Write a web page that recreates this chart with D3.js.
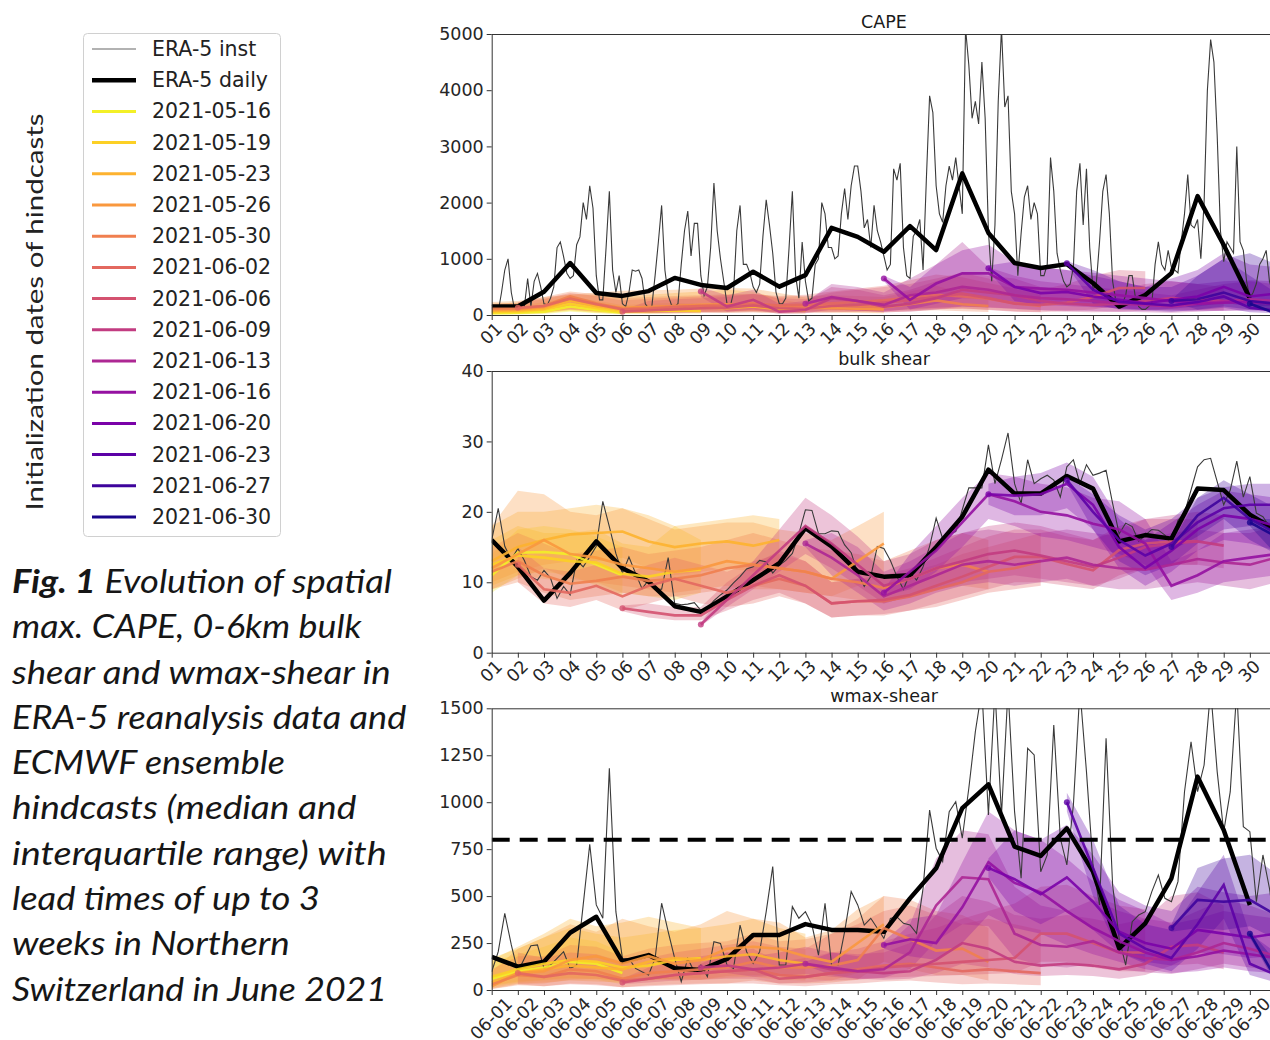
<!DOCTYPE html>
<html>
<head>
<meta charset="utf-8">
<script src="https://cdn.jsdelivr.net/npm/d3@7"></script>
<style>
  body { margin: 0; background: #fff; }
  svg { display: block; }
</style>
</head>
<body>
<div id="chart"></div>
<script>

// hindcast initialization dates and their start day in June (day 0 = 31 May)
var initDates = ["2021-05-16", "2021-05-19", "2021-05-23", "2021-05-26", "2021-05-30", "2021-06-02", "2021-06-06",
  "2021-06-09", "2021-06-13", "2021-06-16", "2021-06-20", "2021-06-23", "2021-06-27", "2021-06-30"];
var initStart = [-14, -11, -7, -4, 0, 2, 6, 9, 13, 16, 20, 23, 27, 30];

// ERA-5 daily maxima, one value per day from 06-01
var capeDaily = [150, 150, 415, 925, 390, 340, 425, 660, 535, 480, 770, 505, 710, 1550, 1390, 1125, 1580, 1155, 2520, 1460,
  925, 835, 905, 570, 150, 355, 745, 2115, 1245, 300];
var shearDaily = [16.0, 12.2, 7.4, 11.3, 15.8, 12.0, 10.1, 6.6, 5.8, 8.0, 10.3, 12.7, 17.7, 15.1, 11.5, 10.8, 11.0, 15.0, 19.3, 26.0,
  22.6, 22.6, 25.1, 23.3, 15.8, 16.7, 16.2, 23.3, 23.1, 19.6, 17.4];
var wmaxDaily = [177, 124, 151, 305, 390, 151, 186, 116, 107, 165, 293, 293, 351, 320, 320, 310, 488, 648, 968, 1095,
  763, 714, 861, 630, 222, 355, 595, 1136, 852, 453];

// ERA-5 instantaneous values (CAPE 3-hourly, shear and wmax-shear 6-hourly) from 06-01 00 UTC
var capeInst = [
  180, 100, 60, 400, 800, 1000, 400, 100,
  100, 90, 150, 650, 150, 600, 740, 500,
  200, 180, 300, 500, 1200, 1300, 1040, 740,
  650, 700, 1250, 1390, 2000, 1700, 2300, 1900,
  700, 270, 270, 1200, 2200, 800, 400, 700,
  200, 150, 400, 800, 780, 800, 650, 200,
  120, 150, 700, 1300, 1950, 800, 350, 180,
  150, 200, 900, 1500, 1850, 1050, 1630, 1630,
  700, 350, 500, 1200, 2350, 1500, 1000, 600,
  200, 150, 400, 1500, 1950, 900, 900, 750,
  500, 400, 550, 1400, 2050, 1600, 1100, 400,
  200, 200, 300, 1200, 2200, 700, 300, 1300,
  600, 250, 300, 900, 1000, 2000, 1800, 1200,
  1200, 1000, 1050, 1800, 2250, 1700, 2300, 2650,
  2650, 2200, 1550, 1700, 1200, 1950, 1500, 1300,
  1050, 800, 900, 2600, 2400, 2700, 1200, 700,
  650, 1400, 1500, 1700, 800, 2400, 3900, 3600,
  2300, 1800, 1650, 2300, 2650, 2400, 2800, 2300,
  1800, 5100, 4450, 3500, 3800, 3400, 4500, 3500,
  1500, 600, 1600, 3800, 5100, 3700, 3900, 2200,
  1800, 700, 1450, 2100, 2300, 1700, 2000, 1800,
  700, 700, 900, 2800, 2200, 1100, 800, 600,
  500, 550, 850, 2200, 2700, 1600, 2600, 1200,
  450, 550, 1300, 2200, 2500, 1800, 600, 250,
  200, 200, 350, 700, 700, 300, 150, 100,
  100, 150, 200, 900, 1300, 900, 800, 1150,
  850, 800, 750, 1300, 1800, 2500, 1600, 1550,
  1700, 1000, 2000, 4000, 4900, 4500, 3200, 1500,
  950, 1300, 1200, 1100, 3000, 1300, 1150, 600,
  300, 400, 560, 900, 1000, 1150, 600, 400,
  300, 250];
var shearInst = [
  16.0, 20.5, 15.1, 13.2, 14.8, 13.1, 10.8, 10.3, 11.7, 10.6, 7.7, 9.4, 8.2, 13.1, 12.2, 13.6,
  15.1, 21.5, 17.9, 14.1, 11.3, 13.6, 11.3, 9.1, 10.3, 9.0, 9.0, 13.5, 7.0, 6.8, 6.9, 7.1,
  6.0, 6.3, 7.4, 8.2, 8.9, 9.9, 10.8, 11.9, 12.2, 13.1, 12.9, 11.3, 12.4, 13.1, 14.1, 16.9,
  20.3, 20.2, 16.9, 16.9, 17.3, 17.2, 15.3, 14.2, 11.3, 9.4, 10.8, 15.1, 14.8, 13.1, 10.8, 9.0,
  11.3, 10.3, 12.2, 15.1, 19.1, 16.2, 16.9, 17.2, 20.3, 23.4, 23.4, 23.4, 29.5, 24.0, 27.4, 31.2,
  24.0, 21.2, 27.4, 24.0, 24.7, 25.2, 24.5, 22.1, 26.4, 27.4, 24.0, 26.7, 25.2, 25.5, 25.9, 21.2,
  16.9, 18.4, 17.9, 15.8, 16.7, 17.5, 17.4, 16.7, 15.3, 18.8, 19.8, 23.1, 26.4, 27.4, 27.6, 24.3,
  21.0, 23.1, 27.2, 22.1, 25.0, 19.8, 19.3, 17.9, 17.5];
var wmaxInst = [
  97, 204, 408, 240, 97, 168, 236, 240, 115, 133, 168, 204, 115, 133, 453, 776,
  453, 382, 1180, 417, 168, 168, 115, 97, 80, 168, 462, 311, 168, 44, 168, 97,
  133, 71, 257, 248, 133, 115, 346, 204, 142, 204, 417, 657, 133, 133, 444, 382,
  417, 346, 186, 462, 133, 133, 311, 524, 453, 346, 382, 329, 275, 381, 390, 355,
  346, 302, 541, 958, 755, 684, 950, 1003, 808, 1074, 1376, 1600, 932, 1600, 932, 1600,
  950, 595, 1287, 1252, 630, 719, 1411, 808, 666, 985, 1600, 1163, 666, 453, 1340, 559,
  275, 133, 364, 399, 417, 524, 612, 488, 470, 577, 1056, 1322, 1056, 1198, 1600, 1163,
  843, 1056, 1600, 870, 843, 470, 719, 541, 300];

// hindcast median and interquartile range, one value per day from max(init, 06-01)
var capeMed = [
  [30, 40, 60, 150, 90, 40],
  [50, 60, 100, 200, 120, 60, 70, 80, 70],
  [70, 80, 110, 260, 160, 90, 110, 130, 140, 120, 150, 100, 80],
  [90, 100, 140, 300, 190, 130, 140, 160, 180, 190, 200, 160, 130, 120, 110, 100],
  [110, 110, 160, 330, 210, 110, 130, 160, 170, 180, 210, 140, 160, 170, 160, 140, 190, 260, 190, 160],
  [130, 160, 290, 190, 100, 110, 140, 160, 170, 200, 170, 180, 210, 230, 260, 310, 360, 330, 290, 210, 160],
  [60, 80, 100, 120, 130, 170, 120, 110, 160, 180, 220, 260, 320, 380, 300, 200, 180, 220, 320, 480, 480],
  [420, 150, 270, 60, 90, 300, 250, 150, 200, 300, 450, 400, 350, 250, 200, 180, 200, 250, 300, 280, 250],
  [200, 320, 250, 180, 350, 400, 500, 450, 350, 300, 280, 250, 200, 180, 150, 200, 250, 280, 250],
  [650, 270, 560, 740, 740, 500, 470, 450, 400, 350, 300, 250, 200, 220, 230, 200],
  [830, 500, 390, 410, 330, 270, 210, 270, 330, 500, 330, 380],
  [920, 450, 230, 200, 170, 230, 330, 130, 80],
  [250, 280, 400, 250, 200],
  [200, 30]];
var capeLo = [
  [10, 10, 20, 60, 30, 10],
  [15, 15, 30, 70, 40, 20, 20, 25, 25],
  [20, 25, 35, 90, 50, 30, 35, 40, 45, 40, 50, 30, 25],
  [25, 30, 45, 110, 65, 45, 45, 55, 60, 65, 70, 55, 45, 40, 35, 30],
  [35, 35, 55, 130, 75, 40, 45, 55, 60, 65, 75, 50, 55, 55, 55, 45, 65, 85, 65, 55],
  [45, 55, 95, 65, 35, 35, 45, 55, 55, 65, 55, 65, 75, 75, 85, 95, 115, 105, 95, 65, 55],
  [40, 30, 30, 40, 40, 50, 40, 40, 50, 60, 70, 80, 100, 120, 90, 60, 50, 70, 100, 180, 200],
  [320, 60, 100, 20, 30, 100, 80, 50, 60, 100, 150, 130, 110, 80, 60, 50, 60, 80, 100, 90, 80],
  [170, 100, 80, 60, 110, 130, 150, 140, 110, 90, 80, 70, 60, 50, 40, 60, 80, 90, 80],
  [600, 100, 200, 300, 300, 200, 180, 160, 140, 120, 100, 80, 70, 70, 80, 70],
  [780, 250, 180, 200, 150, 120, 90, 110, 150, 220, 150, 170],
  [880, 200, 100, 80, 60, 90, 130, 50, 30],
  [230, 100, 150, 100, 80],
  [180, 5]];
var capeHi = [
  [100, 110, 180, 250, 200, 120],
  [150, 160, 230, 320, 260, 180, 200, 220, 200],
  [200, 220, 280, 370, 350, 330, 360, 390, 420, 450, 420, 280, 200],
  [230, 250, 320, 360, 400, 430, 440, 450, 470, 480, 470, 390, 310, 270, 240, 220],
  [200, 220, 320, 420, 370, 300, 320, 340, 350, 370, 380, 320, 340, 350, 340, 320, 420, 520, 400, 320],
  [230, 290, 390, 340, 260, 290, 310, 330, 350, 370, 340, 360, 420, 470, 520, 620, 720, 670, 570, 470, 360],
  [90, 250, 280, 300, 320, 380, 300, 280, 400, 450, 500, 550, 650, 750, 650, 500, 450, 550, 700, 800, 780],
  [500, 350, 450, 200, 250, 500, 450, 350, 450, 600, 750, 700, 650, 500, 450, 400, 450, 550, 600, 550, 500],
  [230, 550, 500, 400, 650, 900, 1300, 850, 700, 600, 550, 500, 450, 400, 350, 450, 550, 600, 550],
  [700, 500, 900, 1150, 1250, 950, 850, 800, 750, 700, 650, 600, 550, 600, 620, 600],
  [880, 950, 850, 800, 700, 600, 500, 650, 800, 1100, 900, 850],
  [960, 800, 600, 500, 500, 700, 1000, 700, 400],
  [270, 700, 1000, 1100, 900],
  [220, 200]];

var shearMed = [
  [11, 14.2, 14.3, 14, 12.5, 11],
  [12.5, 13.8, 13.5, 13, 12.8, 11.2, 10.8, 11.5, 11.8],
  [13, 15, 16, 16.8, 17, 17.2, 15.8, 15, 15.5, 15.8, 15.2, 16],
  [12, 14, 16, 14, 13.5, 12.5, 12, 11.5, 12, 13, 12.5, 12, 11.5, 10.5, 13, 15.5],
  [11.5, 13, 11, 9.8, 10.2, 10.8, 10.2, 10.5, 11, 12, 12.5, 12, 11.5, 10.5, 10, 9.2, 10.5, 12, 12.5, 11.5],
  [12.5, 9, 8.5, 9.5, 8, 9.5, 10.5, 9.5, 8.5, 9.5, 10.5, 9.5, 7, 7.3, 7.3, 8, 9, 10, 11.5, 12, 13],
  [6.3, 5.8, 5.3, 5.3, 7.5, 9.5, 11, 9.5, 7, 7.3, 7.5, 8.2, 9.5, 10.8, 12.2, 13.6, 13.6, 12.6, 11.7, 14.6, 15.5, 15.8, 15.8],
  [4.0, 7.5, 11, 14.5, 18, 15.5, 12.5, 9.5, 10.5, 12, 13, 14, 14.5, 13.8, 13, 12.2, 13.5, 15, 15.5, 15.8, 15.2],
  [15.5, 13.5, 11, 8, 9.5, 11, 12.5, 13, 12.5, 13, 13.5, 12.5, 12, 11.8, 12.5, 13.3, 12.8, 12.5, 13.5],
  [8.5, 11.5, 14.5, 18.5, 22.5, 21.5, 20, 19.5, 18.3, 17.5, 15.5, 9.5, 11, 13, 13.5, 14],
  [22.5, 22.3, 22.5, 24, 21, 15, 12, 14.5, 17.5, 19.5, 19, 18],
  [24.5, 20, 16, 13.8, 15.5, 18.5, 20.5, 21, 21],
  [15, 19.5, 22, 19, 17],
  [18.5, 16.5]];
var shearLo = [
  [8.5, 11, 11.5, 11, 9.5, 8],
  [9.5, 11, 10.5, 10, 10, 8.5, 8, 7.5, 8.5],
  [10, 11.5, 12.5, 13, 13, 13.5, 12, 11, 11.5, 12, 11.5, 12],
  [9, 10.5, 12, 10.5, 10, 9.5, 9, 8.5, 9, 9.5, 9, 9, 8.5, 8, 9.5, 11],
  [9, 10, 8.5, 7.5, 8, 8.5, 8, 8, 8.5, 9, 9.5, 9, 8.5, 8, 7.5, 7, 8, 9, 9.5, 9],
  [10, 7, 6.5, 7.5, 6, 7, 8, 7, 6.5, 7, 8, 7, 5, 5.3, 5.3, 6, 6.5, 7.5, 8.5, 9, 9.5],
  [5.9, 5, 4.6, 4.6, 6, 7.5, 8.5, 7, 5, 5.3, 5.5, 6, 7, 8, 9, 10, 10, 9.5, 9, 11, 12, 12.5, 12.5],
  [3.8, 6.5, 9, 11.5, 14, 12, 9.5, 7, 8, 9, 10, 10.5, 11, 10.5, 10, 9.5, 10.5, 12, 12.5, 12.5, 12],
  [15, 11, 8.5, 6, 7, 8.5, 9.5, 10, 9.5, 10, 10.5, 9.5, 9, 9, 9.5, 10, 9.5, 9, 10],
  [8, 9, 11.5, 15, 19, 18, 16.5, 16, 15, 14, 12.5, 7.5, 8.5, 10, 10.5, 11],
  [21, 19.5, 19.5, 20.5, 17.5, 12, 9.5, 11.5, 14.5, 16, 15.5, 14.5],
  [24, 17.5, 13, 11, 12.5, 15.5, 17.5, 18, 18],
  [14.5, 16.5, 19, 16, 14],
  [18, 14]];
var shearHi = [
  [14, 17.5, 18, 17.5, 16.5, 15],
  [16, 18, 17, 17, 17.5, 15.5, 15, 18, 16],
  [18, 20, 20, 20.5, 21, 20.5, 19.5, 18, 18.5, 19, 19.5, 19],
  [18, 23, 22.5, 20, 19.5, 20.5, 19, 17.5, 18, 18.5, 18.5, 17.5, 17, 16, 18, 20],
  [15, 17, 15.5, 14, 14.5, 15, 14, 14.5, 15, 16, 17, 16, 15, 14.5, 14, 13, 14.5, 16, 17, 16],
  [15, 12, 11.5, 12.5, 11, 12.5, 13.5, 12.5, 11.5, 13, 14, 13, 10, 10.5, 10.5, 11.5, 12.5, 14, 15, 16, 17],
  [6.7, 7, 6.5, 6.5, 10, 12.5, 14.5, 13, 10, 10.5, 11, 12, 13.5, 15, 16.5, 17.5, 17.5, 16.5, 16, 18, 19, 19, 19],
  [4.3, 9, 13, 17.5, 22, 19.5, 16.5, 13, 14, 16, 17, 18, 18.5, 18, 17, 16, 17.5, 19, 19.5, 20, 19.5],
  [16, 17, 15, 11.5, 13, 15, 17, 17.5, 17, 17, 17.5, 17, 16.5, 16, 17, 17.5, 17, 17, 18],
  [9, 14, 18, 22, 25.5, 25, 24, 23.5, 22, 21.5, 19, 13, 14.5, 17, 17.5, 18],
  [24, 25, 25.5, 27, 25, 19, 16, 18.5, 21, 23, 22.5, 22],
  [25, 22.5, 19.5, 17.5, 19, 22, 23.5, 24, 24],
  [15.5, 22, 24.5, 22.5, 20.5],
  [19, 19]];

var wmaxMed = [
  [60, 100, 120, 150, 140, 90],
  [70, 110, 140, 160, 150, 120, 130, 160, 170],
  [40, 90, 110, 130, 120, 110, 150, 170, 160, 180, 190, 160, 140],
  [20, 90, 100, 160, 180, 140, 180, 140, 160, 220, 230, 220, 180, 150, 250, 350],
  [30, 80, 70, 110, 100, 60, 90, 100, 110, 120, 150, 120, 120, 130, 160, 330, 270, 210, 220, 150],
  [90, 70, 90, 80, 50, 60, 80, 90, 100, 110, 80, 70, 90, 110, 130, 140, 120, 100, 110, 100, 90],
  [40, 60, 80, 90, 100, 110, 60, 70, 90, 100, 120, 130, 140, 150, 160, 170, 300, 300, 250, 200, 200],
  [120, 130, 110, 120, 140, 110, 100, 90, 100, 160, 250, 220, 150, 130, 140, 130, 110, 140, 230, 240, 200],
  [140, 120, 100, 110, 200, 450, 600, 590, 300, 240, 230, 260, 200, 170, 160, 200, 250, 220, 180],
  [240, 270, 250, 440, 680, 570, 520, 420, 330, 260, 200, 160, 180, 210, 190, 170],
  [650, 590, 510, 600, 470, 310, 250, 220, 320, 300, 280, 300],
  [1000, 650, 300, 220, 170, 350, 560, 140, 80],
  [330, 480, 470, 480, 400],
  [300, 60]];
var wmaxLo = [
  [20, 40, 50, 60, 55, 30],
  [25, 45, 55, 65, 60, 45, 50, 60, 65],
  [10, 35, 40, 50, 45, 40, 55, 60, 55, 65, 70, 55, 50],
  [5, 30, 35, 55, 60, 50, 65, 50, 55, 75, 80, 75, 60, 50, 90, 150],
  [5, 25, 20, 35, 30, 15, 25, 30, 35, 35, 50, 35, 35, 40, 55, 150, 110, 80, 80, 50],
  [30, 20, 30, 25, 15, 20, 25, 30, 35, 35, 25, 20, 30, 35, 45, 50, 40, 30, 35, 30, 25],
  [30, 40, 50, 55, 60, 60, 35, 40, 50, 55, 65, 70, 75, 80, 85, 90, 150, 150, 120, 100, 100],
  [110, 90, 70, 75, 85, 70, 60, 55, 60, 90, 140, 120, 85, 75, 80, 75, 60, 80, 130, 140, 110],
  [130, 80, 60, 65, 110, 260, 350, 340, 170, 130, 120, 140, 110, 95, 85, 110, 140, 120, 100],
  [220, 180, 160, 250, 400, 330, 300, 240, 190, 150, 110, 90, 100, 120, 100, 90],
  [600, 420, 350, 420, 320, 200, 150, 130, 200, 190, 170, 180],
  [950, 500, 200, 140, 100, 220, 380, 80, 40],
  [310, 330, 320, 340, 270],
  [280, 30]];
var wmaxHi = [
  [150, 190, 230, 280, 260, 200],
  [170, 220, 280, 330, 300, 280, 300, 320, 330],
  [160, 230, 300, 380, 340, 360, 390, 360, 330, 350, 380, 330, 300],
  [100, 220, 280, 350, 310, 380, 340, 310, 350, 420, 380, 360, 280, 320, 430, 500],
  [110, 180, 180, 240, 230, 180, 220, 240, 250, 260, 300, 260, 270, 300, 380, 500, 480, 420, 400, 330],
  [200, 170, 200, 190, 150, 170, 200, 220, 240, 260, 230, 220, 300, 350, 420, 450, 400, 350, 380, 350, 320],
  [60, 120, 150, 180, 200, 220, 150, 170, 200, 220, 260, 300, 330, 380, 420, 460, 550, 560, 500, 450, 430],
  [140, 200, 180, 200, 230, 200, 190, 200, 250, 400, 500, 470, 400, 380, 400, 380, 350, 380, 500, 520, 450],
  [150, 200, 180, 220, 350, 700, 850, 830, 550, 450, 420, 480, 420, 380, 360, 420, 480, 450, 400],
  [260, 380, 400, 680, 950, 850, 800, 700, 580, 480, 420, 350, 380, 420, 400, 380],
  [700, 850, 800, 880, 720, 520, 450, 420, 550, 520, 500, 520],
  [1050, 800, 450, 350, 320, 520, 720, 300, 200],
  [350, 650, 700, 720, 620],
  [320, 150]];

var wmaxThreshold = 800;

var panelTitles = ["CAPE", "bulk shear", "wmax-shear"];
var capeTicks = [0, 1000, 2000, 3000, 4000, 5000];
var shearTicks = [0, 10, 20, 30, 40];
var wmaxTicks = [0, 250, 500, 750, 1000, 1250, 1500];
var dayTicks = d3.range(1, 31);

var legendLabels = ["ERA-5 inst", "ERA-5 daily"].concat(initDates);
var yLabel = "Initialization dates of hindcasts";
var captionBold = "Fig. 1";
var captionLines = [" Evolution of spatial", "max. CAPE, 0-6km bulk", "shear and wmax-shear in",
  "ERA-5 reanalysis data and", "ECMWF ensemble", "hindcasts (median and", "interquartile range) with",
  "lead times of up to 3", "weeks in Northern", "Switzerland in June 2021"];
// target width of each caption line, px
var captionWidths = [380, 350, 380, 395, 273, 345, 375, 308, 278, 375];

// space for the chart
var svgWidth = 1270;
var svgHeight = 1040;

var svg = d3.select("#chart")
  .append("svg")
  .attr("width", svgWidth)
  .attr("height", svgHeight)
  .style("font-family", "'DejaVu Sans', sans-serif");

var x = d3.scaleLinear().domain([1, 31]).range([491.7, 1276]);

function hindColor(i) {
  return d3.interpolatePlasma(0.98 - i * 0.074);
}

var twoDigit = d3.format("02d");
var plainNum = d3.format("d");

var panels = [
  { top: 34, bottom: 315, yMax: 5000, ticks: capeTicks, med: capeMed, lo: capeLo, hi: capeHi,
    inst: capeInst, perDay: 8, daily: capeDaily, fmt: d => twoDigit(d) },
  { top: 371, bottom: 652.7, yMax: 40, ticks: shearTicks, med: shearMed, lo: shearLo, hi: shearHi,
    inst: shearInst, perDay: 4, daily: shearDaily, fmt: d => twoDigit(d) },
  { top: 708.3, bottom: 990, yMax: 1500, ticks: wmaxTicks, med: wmaxMed, lo: wmaxLo, hi: wmaxHi,
    inst: wmaxInst, perDay: 4, daily: wmaxDaily, fmt: d => "06-" + twoDigit(d), threshold: wmaxThreshold }
];

function drawPanel(p, idx) {
  var y = d3.scaleLinear().domain([0, p.yMax]).range([p.bottom, p.top]);
  var g = svg.append("g");

  var clipId = "clip" + idx;
  svg.append("clipPath").attr("id", clipId)
    .append("rect")
    .attr("x", x(1))
    .attr("y", p.top)
    .attr("width", x(31) - x(1))
    .attr("height", p.bottom - p.top);

  var plot = g.append("g").attr("clip-path", "url(#" + clipId + ")");

  var line = d3.line().x(d => x(d[0])).y(d => y(d[1]));
  var area = d3.area().x(d => x(d[0])).y0(d => y(d[1])).y1(d => y(d[2]));

  // hindcast interquartile bands
  p.lo.forEach(function (lo, i) {
    var first = Math.max(initStart[i], 1);
    var bandPts = lo.map((v, j) => [first + j, v, p.hi[i][j]]);
    plot.append("path").datum(bandPts)
      .attr("d", area)
      .attr("fill", hindColor(i))
      .attr("fill-opacity", 0.3);
  });

  // ERA-5 instantaneous
  var instPts = p.inst.map((v, k) => [1 + k / p.perDay, v]);
  plot.append("path").datum(instPts)
    .attr("d", line)
    .attr("fill", "none")
    .attr("stroke", "#3a3a3a")
    .attr("stroke-width", 1.1);

  // ERA-5 daily
  var dailyPts = p.daily.map((v, k) => [1 + k, v]);
  plot.append("path").datum(dailyPts)
    .attr("d", line)
    .attr("fill", "none")
    .attr("stroke", "#000")
    .attr("stroke-width", 4.5)
    .attr("stroke-linejoin", "round");

  // hindcast medians
  p.med.forEach(function (med, i) {
    var first = Math.max(initStart[i], 1);
    var medPts = med.map((v, j) => [first + j, v]);
    plot.append("path").datum(medPts)
      .attr("d", line)
      .attr("fill", "none")
      .attr("stroke", hindColor(i))
      .attr("stroke-width", 2.6)
      .attr("stroke-opacity", 0.9);
    if (initStart[i] >= 1) {
      plot.append("circle")
        .attr("cx", x(first))
        .attr("cy", y(med[0]))
        .attr("r", 3)
        .attr("fill", hindColor(i))
        .attr("opacity", 0.8);
    }
  });

  if (p.threshold !== undefined) {
    plot.append("line")
      .attr("x1", x(1)).attr("x2", x(31))
      .attr("y1", y(p.threshold)).attr("y2", y(p.threshold))
      .attr("stroke", "#000")
      .attr("stroke-width", 4)
      .attr("stroke-dasharray", "18,10");
  }

  // axes
  var leftAxis = d3.axisLeft(y).tickValues(p.ticks).tickFormat(plainNum)
    .tickSize(5).tickSizeOuter(0).tickPadding(3);
  var yAx = g.append("g")
    .attr("transform", `translate(${x(1)}, 0)`)
    .call(leftAxis);

  var bottomAxis = d3.axisBottom(x).tickValues(dayTicks).tickFormat(p.fmt).tickSize(5).tickSizeOuter(0);
  var xAx = g.append("g")
    .attr("transform", `translate(0, ${p.bottom})`)
    .call(bottomAxis);

  [yAx, xAx].forEach(function (ax) {
    ax.attr("color", "#333");
    ax.selectAll("text").attr("fill", "#262626").style("font-size", "17.5px")
      .style("font-family", "'DejaVu Sans', sans-serif");
  });

  xAx.selectAll(".tick text").each(function () {
    var w = this.getComputedTextLength();
    var off = 6 + (w + 13) / (2 * Math.SQRT2);
    d3.select(this)
      .attr("x", 0).attr("y", 0).attr("dy", null)
      .attr("text-anchor", "middle")
      .attr("dominant-baseline", "central")
      .attr("transform", `translate(-1, ${off}) rotate(-45)`);
  });

  // top spine
  g.append("line")
    .attr("x1", x(1)).attr("x2", x(31))
    .attr("y1", p.top + 0.5).attr("y2", p.top + 0.5)
    .attr("stroke", "#333");

  g.append("text")
    .attr("x", 884)
    .attr("y", p.top - 6)
    .attr("text-anchor", "middle")
    .attr("fill", "#1a1a1a")
    .style("font-size", "17.5px")
    .text(panelTitles[idx]);
}

panels.forEach(drawPanel);

// legend
var legend = svg.append("g");
legend.append("rect")
  .attr("x", 83.5).attr("y", 33.5)
  .attr("width", 197).attr("height", 503)
  .attr("rx", 4)
  .attr("fill", "#fff")
  .attr("stroke", "#d0d0d0");

legendLabels.forEach(function (label, k) {
  var yy = 49 + k * 31.2;
  var color = k === 0 ? "#666" : k === 1 ? "#000" : hindColor(k - 2);
  var w = k === 0 ? 1.2 : k === 1 ? 4.5 : 3;
  legend.append("line")
    .attr("x1", 92).attr("x2", 136)
    .attr("y1", yy).attr("y2", yy)
    .attr("stroke", color)
    .attr("stroke-width", w);
  legend.append("text")
    .attr("x", 152).attr("y", yy)
    .attr("dominant-baseline", "central")
    .attr("fill", "#222")
    .style("font-size", "20.5px")
    .text(label);
});

// vertical label beside the legend
svg.append("text")
  .attr("transform", "translate(43, 312) rotate(-90)")
  .attr("text-anchor", "middle")
  .attr("fill", "#222")
  .attr("textLength", 397)
  .attr("lengthAdjust", "spacingAndGlyphs")
  .style("font-family", "Lato, 'Open Sans', sans-serif")
  .style("font-size", "24px")
  .text(yLabel);

// caption
var caption = svg.append("g")
  .style("font-family", "Lato, 'Open Sans', sans-serif")
  .style("font-style", "italic")
  .style("font-size", "33px")
  .attr("fill", "#161616");

captionLines.forEach(function (line, k) {
  var t = caption.append("text").attr("x", 12).attr("y", 593 + k * 45.3);
  if (k === 0) {
    t.append("tspan").style("font-weight", "bold").text(captionBold);
    t.append("tspan").text(line);
  } else {
    t.text(line);
  }
  var w = t.node().getBBox().width;
  var s = captionWidths[k] / w;
  t.attr("transform", `translate(12, 0) scale(${s}, 1) translate(-12, 0)`);
});

</script>
</body>
</html>
